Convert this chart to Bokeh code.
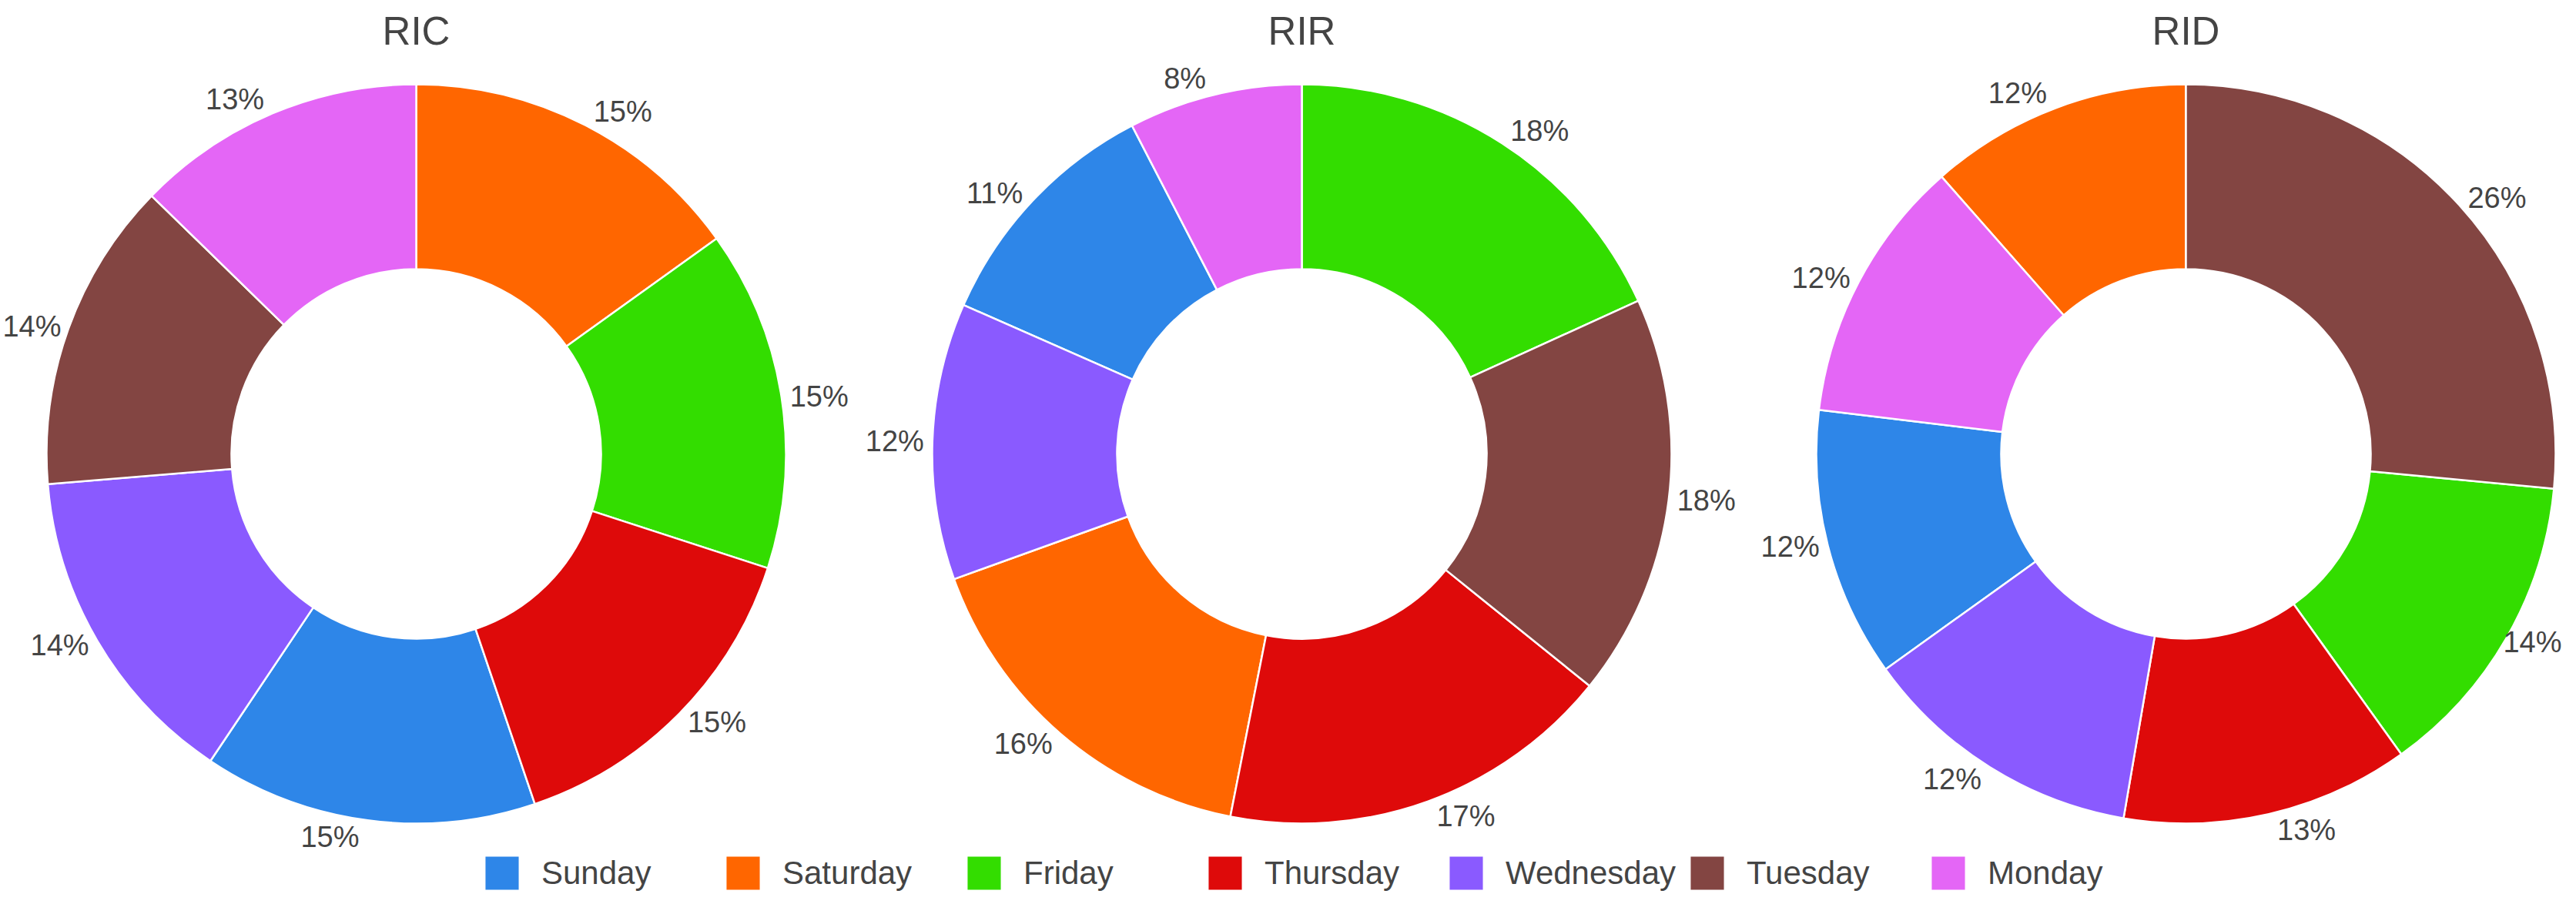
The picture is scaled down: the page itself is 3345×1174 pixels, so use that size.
import math
from bokeh.plotting import figure
from bokeh.models import Range1d, ColumnDataSource, Legend, LegendItem
from bokeh.core.properties import value
from bokeh.embed import file_html
from bokeh.resources import INLINE

# ---------------- data ----------------
charts = ["RIC", "RIR", "RID"]
days = ["Sunday", "Saturday", "Friday", "Thursday", "Wednesday", "Tuesday", "Monday"]
day_colors = ["#2E86E8", "#FF6600", "#33DD00", "#DE0A0A", "#8A5AFF", "#834542", "#E466F6"]
ric_pct = [14.6, 15.1, 14.9, 14.8, 14.3, 13.6, 12.7]
rir_pct = [10.8, 16.4, 18.2, 17.3, 12.1, 17.6, 7.6]
rid_pct = [11.8, 11.5, 13.6, 12.6, 12.4, 26.5, 11.6]
series = [ric_pct, rir_pct, rid_pct]

# ---------------- layout ----------------
W, H = 3329, 1158


def dx(sx):
    return sx


def dy(sy):
    return H - sy


CX = [540, 1690, 2838]
CY = 589
R_OUT = 480
R_IN = 240
LABEL_FS = 38
TITLE_FS = 51
LEGEND_FS = 42
FONT = "Liberation Sans"
TXT_COLOR = "#444444"
CHAR_W = {"%": 0.889}

p = figure(width=W, height=H, x_range=Range1d(0, W), y_range=Range1d(0, H),
           output_backend="svg", toolbar_location=None, min_border=0)
p.axis.visible = False
p.grid.visible = False
p.outline_line_color = None
p.background_fill_color = "white"
p.border_fill_color = "white"

wedge_data = {d: dict(x=[], y=[], start=[], end=[]) for d in days}
label_x, label_y, label_t = [], [], []
for ci, vals in enumerate(series):
    total = sum(vals)
    order = sorted(range(len(days)), key=lambda i: -vals[i])
    theta = 0.0
    for i in order:
        frac = vals[i] / total
        t0 = theta
        t1 = theta + frac * 2 * math.pi
        theta = t1
        wd = wedge_data[days[i]]
        wd["x"].append(dx(CX[ci]))
        wd["y"].append(dy(CY))
        wd["start"].append(math.pi / 2 - t0)
        wd["end"].append(math.pi / 2 - t1)
        tm = (t0 + t1) / 2
        px = R_OUT * math.sin(tm)
        py = -R_OUT * math.cos(tm)
        txt = f"{round(frac * 100)}%"
        w = LABEL_FS * sum(CHAR_W.get(c, 0.556) for c in txt)
        h = LABEL_FS * 1.15
        ddx = w / 2 * (1 if px >= 0 else -1)
        ddy = h / 2 * (1 if py >= 0 else -1)
        ox = ddx + abs(ddy) * (1 if ddx > 0 else -1) / 2
        oy = ddy / (1 + px * px / (py * py)) if abs(py) > 1e-9 else 0.0
        sx = CX[ci] + px + ox
        # keep label inside the canvas
        sx = min(sx, W - 3 - w / 2)
        sx = max(sx, 3 + w / 2)
        label_x.append(dx(sx))
        label_y.append(dy(CY + py + oy))
        label_t.append(txt)

items = []
for d, c in zip(days, day_colors):
    src = ColumnDataSource(wedge_data[d])
    r = p.annular_wedge(x="x", y="y", inner_radius=R_IN, outer_radius=R_OUT,
                        start_angle="start", end_angle="end", direction="clock",
                        fill_color=c, line_color="white", line_width=2.5, source=src)
    items.append(LegendItem(label=d, renderers=[r]))

p.text(x=label_x, y=label_y, text=label_t, text_align="center", text_baseline="middle",
       text_font=value(FONT), text_font_size=f"{LABEL_FS}px", text_color=TXT_COLOR)

p.text(x=[dx(c) for c in CX], y=[dy(40)] * 3, text=charts, text_align="center",
       text_baseline="alphabetic", text_font=value(FONT), text_font_size=f"{TITLE_FS}px",
       text_color=TXT_COLOR)

legend = Legend(items=items, orientation="horizontal", location=(623, -4),
                padding=0, margin=0, spacing=0,
                glyph_width=57, glyph_height=57, label_standoff=23, label_width=233,
                label_text_font=FONT, label_text_font_size=f"{LEGEND_FS}px",
                label_text_color=TXT_COLOR,
                border_line_alpha=0, background_fill_alpha=0)
p.add_layout(legend)

open("out.html", "w").write(file_html(p, INLINE))
